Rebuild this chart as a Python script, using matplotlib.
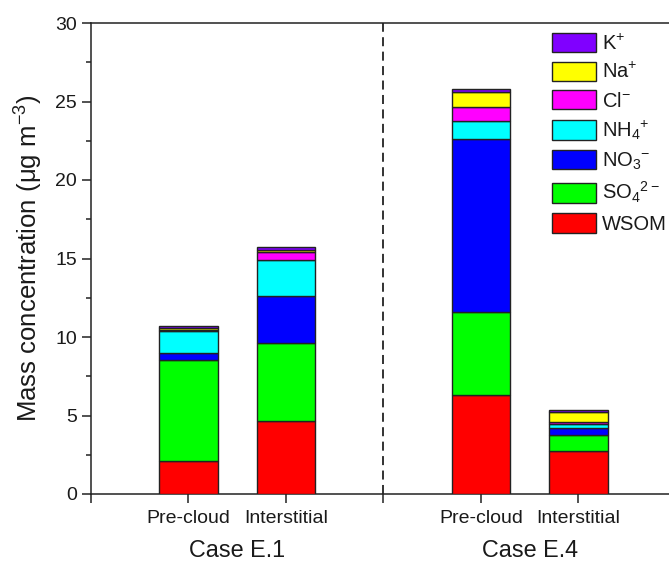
import matplotlib
matplotlib.use("Agg")
import matplotlib.pyplot as plt
import matplotlib.transforms as mtransforms
from matplotlib.ticker import MultipleLocator
import numpy as np

plt.rcParams['font.family'] = ['Liberation Sans', 'DejaVu Sans']
plt.rcParams['mathtext.default'] = 'regular'

# ---- data ----
bar_labels = ["Pre-cloud", "Interstitial", "Pre-cloud", "Interstitial"]
case_labels = ["Case E.1", "Case E.4"]
species = ["WSOM", "SO$_4$$^{2-}$", "NO$_3$$^{-}$", "NH$_4$$^{+}$", "Cl$^{-}$", "Na$^{+}$", "K$^{+}$"]
colors = ["#FF0000", "#00FF00", "#0000FF", "#00FFFF", "#FF00FF", "#FFFF00", "#8000FF"]

wsom = [2.10, 4.66, 6.30, 2.74]
so4 = [6.45, 4.93, 5.30, 1.00]
no3 = [0.42, 2.99, 11.00, 0.49]
nh4 = [1.43, 2.34, 1.14, 0.21]
cl = [0.05, 0.51, 0.90, 0.13]
na = [0.15, 0.10, 0.96, 0.66]
k = [0.12, 0.20, 0.17, 0.13]
series = [wsom, so4, no3, nh4, cl, na, k]

positions = [1, 2, 4, 5]
case_centers = [1.5, 4.5]

W, H = 669, 562
fig = plt.figure(figsize=(W / 100, H / 100), dpi=100)
ax = fig.add_axes([91 / W, (H - 494) / H, 585 / W, 471 / H])

bottom = np.zeros(len(positions))
handles = []
for vals, col, lab in zip(series, colors, species):
    b = ax.bar(positions, vals, width=0.6, bottom=bottom, color=col,
               edgecolor="#222222", linewidth=1.0, label=lab, zorder=3)
    handles.append(b)
    bottom += np.array(vals)

ax.axvline(3, ymin=0, ymax=1, color="#222222", linestyle=(0, (5, 3)), linewidth=1.3, zorder=2)

ax.set_xlim(0, 6)
ax.set_ylim(0, 30)
ax.set_xticks([0, 1, 2, 3, 4, 5, 6])
ax.set_xticklabels([""] + bar_labels[:2] + [""] + bar_labels[2:] + [""])
ax.yaxis.set_major_locator(MultipleLocator(5))
ax.yaxis.set_minor_locator(MultipleLocator(2.5))

for s in ["left", "bottom", "top"]:
    ax.spines[s].set_linewidth(1.1)
    ax.spines[s].set_color("#222222")
ax.spines["right"].set_visible(False)

ax.tick_params(axis="both", which="major", direction="out", length=6.5, width=1.1,
               color="#222222", labelsize=14, labelcolor="#1a1a1a")
ax.tick_params(axis="x", pad=5)
ax.tick_params(axis="y", which="minor", direction="out", length=3.5, width=1.1, color="#222222")

ax.set_ylabel("Mass concentration (μg m$^{-3}$)", fontsize=18.5, color="#1a1a1a")
ax.yaxis.set_label_coords(-62 / 585, 0.5)
ax.yaxis.label.set_va("center")

trans = mtransforms.blended_transform_factory(ax.transData, fig.transFigure)
for cx, lab in zip(case_centers, case_labels):
    ax.text(cx, 5 / H, lab, transform=trans, ha="center", va="baseline",
            fontsize=16.8, color="#1a1a1a")

leg = ax.legend(handles[::-1], species[::-1], loc="upper left",
                bbox_to_anchor=(552 / W, 1 - 33 / H), bbox_transform=fig.transFigure,
                frameon=False, fontsize=14.5, handlelength=2.2, handleheight=1.1,
                handletextpad=0.3, labelspacing=0.4, borderpad=0, borderaxespad=0)
for t in leg.get_texts():
    t.set_color("#1a1a1a")

fig.savefig("out.png", dpi=100)
